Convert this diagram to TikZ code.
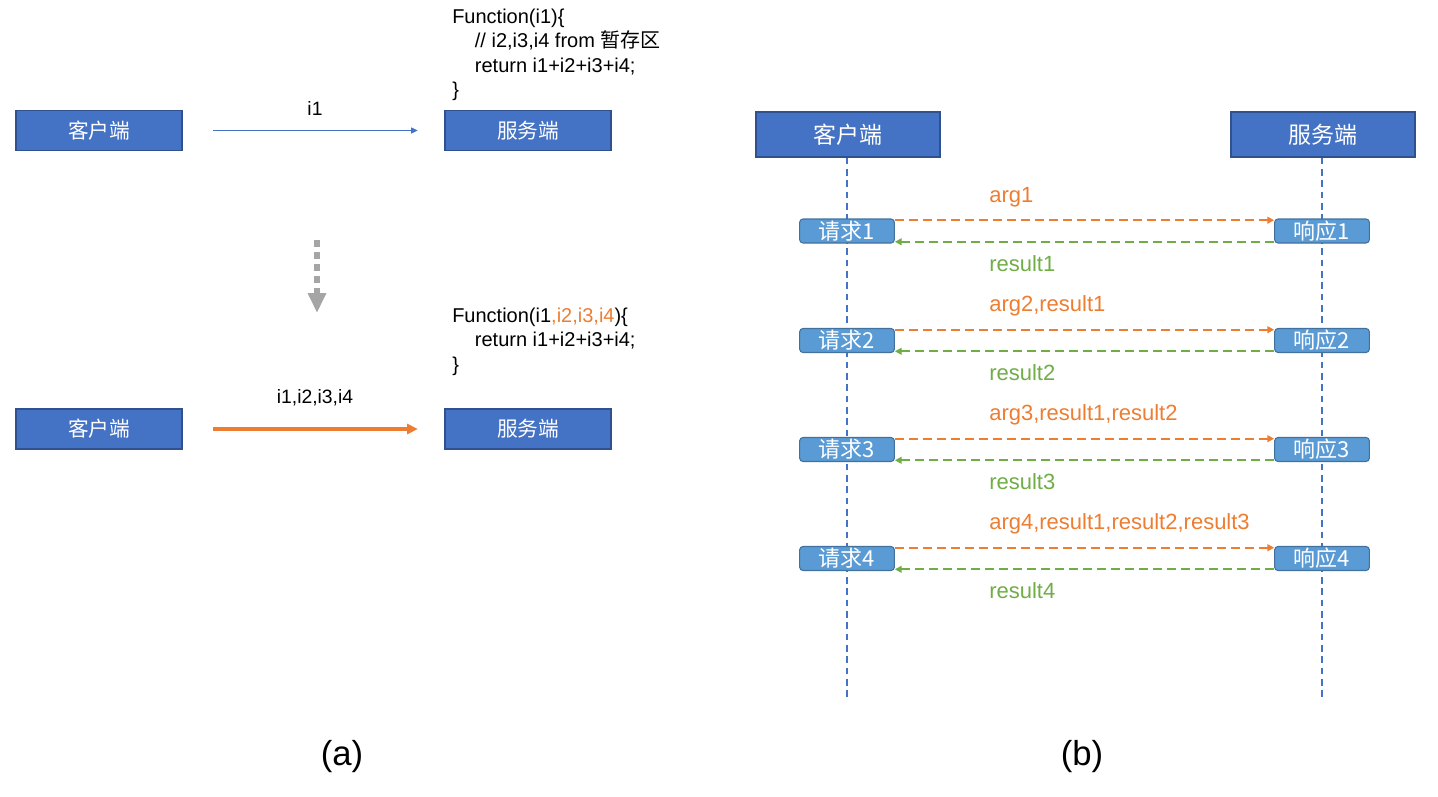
\documentclass[tikz,border=0pt]{standalone}
\usepackage{fontspec}
\setmainfont{Liberation Sans}
\newfontfamily\cjk{Noto Sans CJK SC}
\usetikzlibrary{arrows.meta}
\definecolor{boxblue}{HTML}{4472C4}
\definecolor{boxedge}{HTML}{2F528F}
\definecolor{reqblue}{HTML}{5B9BD5}
\definecolor{reqedge}{HTML}{41719C}
\definecolor{orng}{HTML}{ED7D31}
\definecolor{grn}{HTML}{70AD47}
\definecolor{gry}{HTML}{A5A5A5}
\begin{document}
\begin{tikzpicture}[x=0.75pt,y=-0.75pt,
  smallbox/.style={draw=boxedge, fill=boxblue, line width=0.8pt, text=white,
    minimum width=124.5pt, minimum height=30pt, inner sep=0pt,
    font=\cjk\fontsize{15.5}{18}\selectfont},
  bigbox/.style={draw=boxedge, fill=boxblue, line width=0.8pt, text=white,
    minimum width=138pt, minimum height=33.75pt, inner sep=0pt,
    font=\cjk\fontsize{17.25}{20}\selectfont},
  reqbox/.style={draw=reqedge, fill=reqblue, line width=0.8pt, text=white,
    rounded corners=2.5pt, minimum width=71pt, minimum height=18pt, inner sep=0pt,
    font=\cjk\fontsize{16.5}{18}\selectfont},
  codetext/.style={anchor=west, inner sep=0pt, align=left,
    font=\fontsize{15}{18.4}\selectfont},
  lbltext/.style={inner sep=0pt, font=\fontsize{14.5}{17}\selectfont},
  msgtext/.style={anchor=west, inner sep=0pt, font=\fontsize{16.5}{19}\selectfont},
  lifeline/.style={draw=boxblue, line width=0.8pt, dash pattern=on 5pt off 3.5pt},
  callarrow/.style={draw=orng, line width=1.3pt, dash pattern=on 6.5pt off 4pt,
    -{Triangle[length=5pt,width=5pt]}},
  retarrow/.style={draw=grn, line width=1.3pt, dash pattern=on 6.5pt off 4pt,
    -{Triangle[length=5pt,width=5pt]}},
  captext/.style={inner sep=0pt, font=\fontsize{26}{30}\selectfont}
]
\useasboundingbox (0,0) rectangle (1438,796);

% ---------- (a) top ----------
\node[smallbox] (ca1) at (99,130.5) {客户端};
\node[smallbox] (sa1) at (528,130.5) {服务端};
\draw[boxblue, line width=0.8pt, -{Triangle[length=5pt,width=4.5pt]},
  shorten <=23pt, shorten >=20pt] (ca1) -- (sa1);
\node[lbltext] (li1) at (315,108) {i1};
\node[codetext] (code1) at (452,55) {Function(i1)\{\\
\hspace*{17pt}// i2,i3,i4 from {\cjk 暂存区}\\
\hspace*{17pt}return i1+i2+i3+i4;\\
\}};

% ---------- transition arrow ----------
\coordinate (tr1) at (317,240);
\coordinate (tr2) at (317,313);
\draw[gry, line width=5pt, dash pattern=on 5pt off 4pt,
  -{Triangle[length=15pt,width=13pt]}] (tr1) -- (tr2);

% ---------- (a) bottom ----------
\node[smallbox] (ca2) at (99,429) {客户端};
\node[smallbox] (sa2) at (528,429) {服务端};
\draw[orng, line width=2.4pt, -{Triangle[length=8pt,width=7.5pt]},
  shorten <=23pt, shorten >=20pt] (ca2) -- (sa2);
\node[lbltext] (li2) at (315,398) {i1,i2,i3,i4};
\node[codetext] (code2) at (452,341.5) {Function(i1\textcolor{orng}{,i2,i3,i4})\{\\
\hspace*{17pt}return i1+i2+i3+i4;\\
\}};

% ---------- (b) ----------
\node[bigbox] (cb) at (848,134.5) {客户端};
\node[bigbox] (sb) at (1323,134.5) {服务端};
\coordinate (cbend) at (847,697);
\coordinate (sbend) at (1322,697);
\draw[lifeline] (cb.south -| cbend) -- (cbend);
\draw[lifeline] (sb.south -| sbend) -- (sbend);

\node[reqbox] (q1) at (847,231) {请求1};
\node[reqbox] (p1) at (1322,231) {响应1};
\node[reqbox] (q2) at (847,340.5) {请求2};
\node[reqbox] (p2) at (1322,340.5) {响应2};
\node[reqbox] (q3) at (847,449.5) {请求3};
\node[reqbox] (p3) at (1322,449.5) {响应3};
\node[reqbox] (q4) at (847,558.5) {请求4};
\node[reqbox] (p4) at (1322,558.5) {响应4};

\foreach \i in {1,2,3,4}{
  \draw[callarrow] ([yshift=-1.3pt]q\i.north east) -- ([yshift=-1.3pt]p\i.north west);
  \draw[retarrow] ([yshift=1.3pt]p\i.south west) -- ([yshift=1.3pt]q\i.south east);
}

\node[msgtext, text=orng] (a1) at (989,197) {arg1};
\node[msgtext, text=grn] (r1) at (989,264) {result1};
\node[msgtext, text=orng] (a2) at (989,306) {arg2,result1};
\node[msgtext, text=grn] (r2) at (989,373) {result2};
\node[msgtext, text=orng] (a3) at (989,415) {arg3,result1,result2};
\node[msgtext, text=grn] (r3) at (989,482) {result3};
\node[msgtext, text=orng] (a4) at (989,524) {arg4,result1,result2,result3};
\node[msgtext, text=grn] (r4) at (989,591) {result4};

% ---------- captions ----------
\node[captext] (capa) at (342,757) {(a)};
\node[captext] (capb) at (1082,757) {(b)};
\end{tikzpicture}
\end{document}
